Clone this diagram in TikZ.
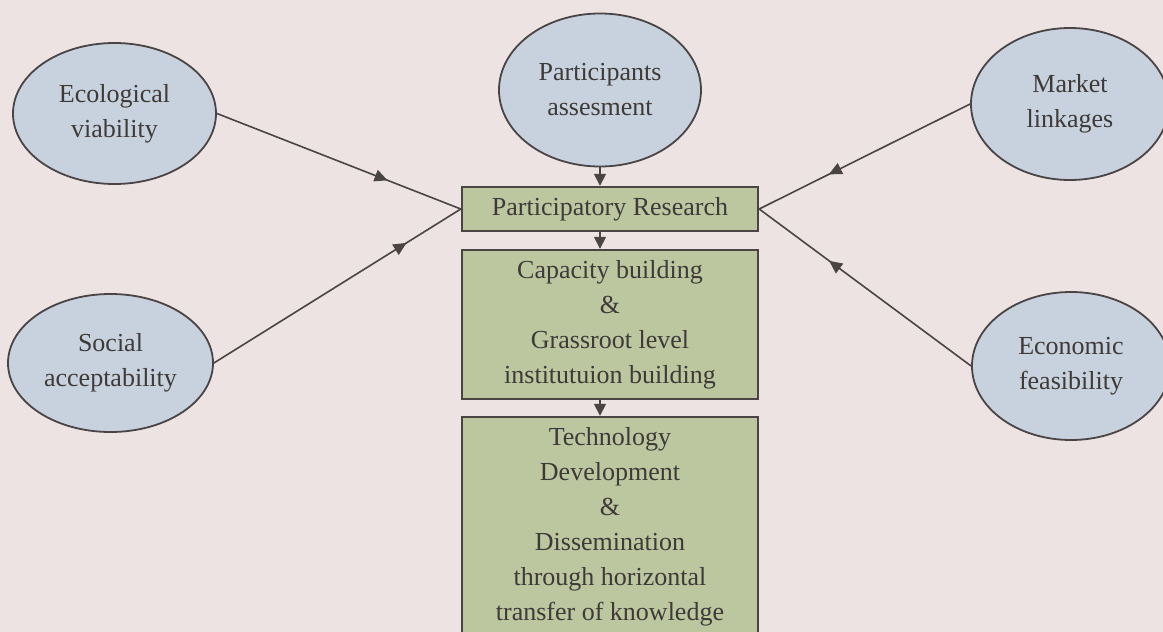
\documentclass[tikz,border=0pt]{standalone}
\usepackage{fontspec}
\setmainfont{Liberation Serif}
\usetikzlibrary{shapes.geometric,arrows.meta,decorations.markings}
\definecolor{paper}{HTML}{EDE3E2}
\definecolor{ovalfill}{HTML}{C8D2DE}
\definecolor{boxfill}{HTML}{BCC7A0}
\definecolor{ink}{HTML}{4A4444}
\definecolor{txt}{HTML}{3E3A38}
\tikzset{
  oval/.style={ellipse, draw=ink, line width=1.8pt, fill=ovalfill, inner sep=0pt,
    text=txt, align=center, font=\fontsize{26}{35}\selectfont},
  stage/.style={rectangle, draw=ink, line width=2.4pt, fill=boxfill, inner sep=0pt,
    minimum width=296, text=txt, align=center, font=\fontsize{26}{35}\selectfont},
  feed/.style={draw=ink, line width=1.6pt},
  midtip/.style={postaction={decorate}, decoration={markings,
    mark=at position #1 with {\arrow{Triangle[length=13pt,width=12pt]}}}},
  down/.style={draw=ink, line width=1.6pt, -{Triangle[length=12pt,width=12pt]}}
}
\begin{document}
\begin{tikzpicture}[x=1pt,y=-1pt]
  \fill[paper] (0,0) rectangle (1163,632);
  \useasboundingbox (0,0) rectangle (1163,632);
  \clip (0,0) rectangle (1163,632);

  % input ovals
  \node[oval, minimum width=203, minimum height=141] (eco) at (114.5,113.5) {Ecological\\viability};
  \node[oval, minimum width=205, minimum height=138] (soc) at (110.5,363) {Social\\acceptability};
  \node[oval, minimum width=202, minimum height=153] (par) at (600,90) {Participants\\assesment};
  \node[oval, minimum width=198, minimum height=152] (mkt) at (1070,104) {Market\\linkages};
  \node[oval, minimum width=198, minimum height=148] (eca) at (1071,366) {Economic\\feasibility};

  % central stages
  \node[stage, minimum height=44] (pr) at (610,209) {Participatory Research};
  \node[stage, minimum height=149] (cap) at (610,324.5)
    {Capacity building\\\&\\Grassroot level\\institutuion building};
  \node[stage, minimum height=219] (tech) at (610,526.5)
    {Technology\\Development\\\&\\Dissemination\\through horizontal\\transfer of knowledge};

  % converging inputs
  \draw[feed, midtip=0.70] (eco.east) -- (pr.west);
  \draw[feed, midtip=0.78] (soc.east) -- (pr.west);
  \draw[feed, midtip=0.67] (mkt.west) -- (pr.east);
  \draw[feed, midtip=0.67] (eca.west) -- (pr.east);

  % vertical flow, on the axis of the upper oval
  \draw[down] (par.south) -- (par.south |- pr.north);
  \draw[down] (par.south |- pr.south) -- (par.south |- cap.north);
  \draw[down] (par.south |- cap.south) -- (par.south |- tech.north);
\end{tikzpicture}
\end{document}
